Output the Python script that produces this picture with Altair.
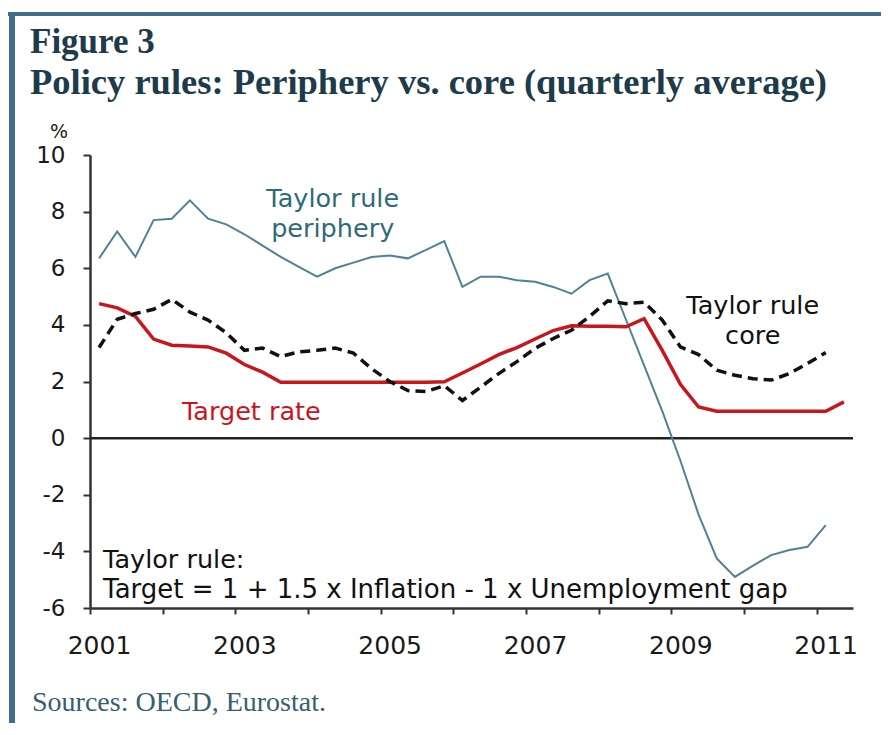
import altair as alt
import pandas as pd

# ---------------- data (quarterly averages, 2001Q1 onward) ----------------
periphery = [6.35, 7.3, 6.4, 7.7,
             7.75, 8.4, 7.75, 7.55,
             7.2, 6.8, 6.4, 6.05,
             5.7, 6.0, 6.2, 6.4,
             6.45, 6.35, 6.65, 6.96,
             5.34, 5.7, 5.7, 5.58,
             5.52, 5.34, 5.1, 5.58,
             5.81, 4.19, 2.57, 0.95,
             -0.8, -2.7, -4.25, -4.9,
             -4.5, -4.13, -3.95, -3.84,
             -3.07]
target = [4.75, 4.6, 4.3, 3.5,
          3.28, 3.25, 3.22, 3.0,
          2.6, 2.33, 1.97, 1.97,
          1.97, 1.97, 1.97, 1.97,
          1.97, 1.97, 1.97, 1.99,
          2.3, 2.62, 2.95, 3.2,
          3.5, 3.8, 3.97, 3.95,
          3.95, 3.93, 4.22, 3.1,
          1.9, 1.1, 0.95, 0.95,
          0.95, 0.95, 0.95, 0.95,
          0.95, 1.28]
core = [3.2, 4.2, 4.4, 4.55,
        4.9, 4.45, 4.17, 3.72,
        3.1, 3.18, 2.88, 3.05,
        3.1, 3.18, 3.0, 2.45,
        2.0, 1.68, 1.65, 1.85,
        1.33, 1.8, 2.28, 2.7,
        3.17, 3.52, 3.81, 4.3,
        4.85, 4.75, 4.8, 4.17,
        3.22, 2.95, 2.4, 2.22,
        2.1, 2.05, 2.28, 2.64,
        3.02]

first_year = 2001
year_ticks = list(range(2001, 2012))
y_ticks = [-6, -4, -2, 0, 2, 4, 6, 8, 10]

ann_text = ["Taylor rule", "periphery", "Taylor rule", "core", "Target rate",
            "Taylor rule:", "Target = 1 + 1.5 x Inflation - 1 x Unemployment gap"]
ann_x = [2004.34, 2004.34, 2010.12, 2010.12, 2003.22, 2001.18, 2001.18]
ann_y = [8.15, 7.1, 4.4, 3.34, 0.63, -4.6, -5.66]
ann_color = ["#2f6a79", "#2f6a79", "#111111", "#111111", "#c8161d", "#111111", "#111111"]
ann_align = ["center", "center", "center", "center", "center", "left", "left"]
ann_size = [25.5, 25.5, 25.5, 25.5, 25.5, 25.5, 26]


def qtime(i):
    return first_year + (i + 0.5) / 4.0


rows = []
for name, vals in [("periphery", periphery), ("target", target), ("core", core)]:
    for i, v in enumerate(vals):
        rows.append({"series": name, "t": qtime(i), "v": v})
df = pd.DataFrame(rows)

ann = pd.DataFrame({"text": ann_text, "x": ann_x, "y": ann_y,
                    "color": ann_color, "align": ann_align, "size": ann_size})

W, H = 763, 453
xscale = alt.Scale(domain=[2001, 2011.5], nice=False, zero=False)
yscale = alt.Scale(domain=[-6, 10], nice=False)

xaxis = alt.Axis(values=year_ticks, title=None, grid=False,
                 labelExpr="datum.value % 2 == 1 ? '' + datum.value : ''",
                 labelFont="DejaVu Sans", labelFontSize=25, labelColor="#1a1a1a",
                 labelPadding=19, labelOffset=9, labelFlush=False,
                 domainColor="#333333", domainWidth=2.5,
                 tickColor="#333333", tickWidth=2, tickSize=6)
yaxis = alt.Axis(values=y_ticks, title=None, grid=False,
                 labelExpr="'' + datum.value",
                 labelFont="DejaVu Sans", labelFontSize=23, labelColor="#1a1a1a",
                 labelPadding=18,
                 domainColor="#333333", domainWidth=2.5,
                 tickColor="#333333", tickWidth=2, tickSize=7)

base = alt.Chart(df)


def series_line(name, color, width, dash=None):
    kw = dict(color=color, strokeWidth=width, clip=False)
    if dash is not None:
        kw["strokeDash"] = dash
    return base.transform_filter(alt.datum.series == name).mark_line(**kw).encode(
        x=alt.X("t:Q", scale=xscale, axis=xaxis),
        y=alt.Y("v:Q", scale=yscale, axis=yaxis),
    )


zero = alt.Chart(pd.DataFrame({"z": [0]})).mark_rule(color="#222222", strokeWidth=2.5).encode(
    y=alt.Y("z:Q", scale=yscale, axis=yaxis))

l_per = series_line("periphery", "#4e8294", 2)
l_tar = series_line("target", "#c8161d", 3.5)
l_core = series_line("core", "#111111", 3.5, [10, 6])


def ann_layer(align):
    return alt.Chart(ann).transform_filter(alt.datum.align == align).mark_text(
        font="DejaVu Sans", baseline="alphabetic", align=align).encode(
        x=alt.X("x:Q", scale=xscale),
        y=alt.Y("y:Q", scale=yscale),
        text="text:N",
        color=alt.Color("color:N", scale=None),
        size=alt.Size("size:Q", scale=None),
    )


labels_c = ann_layer("center")
labels_l = ann_layer("left")


def pix_text(txt, x, y, size, font, weight="normal", color="#000", align="left"):
    return alt.Chart(pd.DataFrame({"t": [txt]})).mark_text(
        font=font, fontSize=size, fontWeight=weight, color=color,
        align=align, baseline="alphabetic").encode(
        x=alt.value(x), y=alt.value(y), text="t:N")


title1 = pix_text("Figure 3", -60, -102, 35, "Liberation Serif", "bold", "#1d3b4b")
title2 = pix_text("Policy rules: Periphery vs. core (quarterly average)", -60, -61, 36.5,
                  "Liberation Serif", "bold", "#1d3b4b")
pct = pix_text("%", -31, -17, 19, "DejaVu Sans", "normal", "#1a1a1a", "center")
src = pix_text("Sources: OECD, Eurostat.", -58, 556, 28, "Liberation Serif", "normal", "#35606f")

frame_top = alt.Chart(pd.DataFrame({"a": [0]})).mark_rule(color="#3f6f8c", strokeWidth=4).encode(
    x=alt.value(-82), x2=alt.value(W + 28), y=alt.value(-141))
frame_left = alt.Chart(pd.DataFrame({"a": [0]})).mark_rule(color="#3f6f8c", strokeWidth=6).encode(
    x=alt.value(-78), y=alt.value(-143), y2=alt.value(H + 115))

chart = alt.layer(
    frame_top, frame_left, title1, title2, pct, src,
    zero, l_per, l_tar, l_core, labels_c, labels_l
).properties(
    width=W, height=H,
    padding={"left": 82, "top": 147, "right": 28, "bottom": 115},
    autosize=alt.AutoSizeParams(type="none"),
    background="white",
).configure_view(stroke="transparent")

chart.save("out.html", embed_options={"renderer": "svg", "actions": False})
